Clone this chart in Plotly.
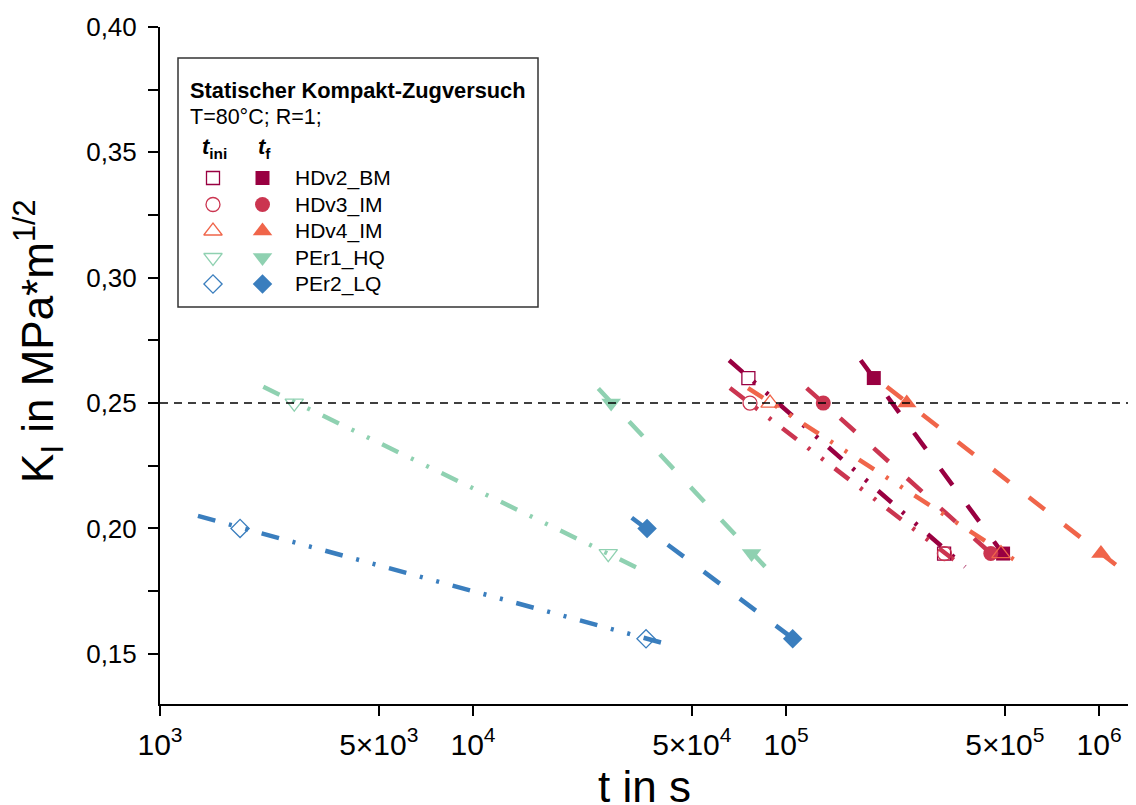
import plotly.graph_objects as go

# ---------------- data ----------------
series_names = ["HDv2_BM", "HDv3_IM", "HDv4_IM", "PEr1_HQ", "PEr2_LQ"]
series_colors = ["#990041", "#cb3550", "#f0654a", "#8fd1b1", "#3a7ebe"]
series_symbols = ["square", "circle", "triangle-up", "triangle-down", "diamond"]

# initiation times t_ini (s) and stress intensity K_I
t_ini = {
    "HDv2_BM": [75800, 319800],
    "HDv3_IM": [76700, 320600],
    "HDv4_IM": [88900, 486000],
    "PEr1_HQ": [2685, 27040],
    "PEr2_LQ": [1802, 35700],
}
k_ini = {
    "HDv2_BM": [0.26, 0.19],
    "HDv3_IM": [0.25, 0.19],
    "HDv4_IM": [0.25, 0.19],
    "PEr1_HQ": [0.25, 0.19],
    "PEr2_LQ": [0.20, 0.156],
}
# failure times t_f (s)
t_f = {
    "HDv2_BM": [190700, 493600],
    "HDv3_IM": [131500, 451000],
    "HDv4_IM": [243000, 1014000],
    "PEr1_HQ": [27620, 77600],
    "PEr2_LQ": [35970, 105000],
}
k_f = {
    "HDv2_BM": [0.26, 0.19],
    "HDv3_IM": [0.25, 0.19],
    "HDv4_IM": [0.25, 0.19],
    "PEr1_HQ": [0.25, 0.19],
    "PEr2_LQ": [0.20, 0.156],
}
# fit line end points
fit_ini_t = {
    "HDv2_BM": [65800, 373000],
    "HDv3_IM": [66200, 367800],
    "HDv4_IM": [75600, 567600],
    "PEr1_HQ": [2138, 33740],
    "PEr2_LQ": [1322, 43560],
}
fit_ini_k = {
    "HDv2_BM": [0.2671, 0.1847],
    "HDv3_IM": [0.2560, 0.1847],
    "HDv4_IM": [0.2560, 0.1855],
    "PEr1_HQ": [0.2565, 0.1841],
    "PEr2_LQ": [0.2050, 0.1532],
}
fit_f_t = {
    "HDv2_BM": [173200, 535000],
    "HDv3_IM": [116400, 508000],
    "HDv4_IM": [209800, 1170000],
    "PEr1_HQ": [25140, 85700],
    "PEr2_LQ": [32140, 114200],
}
fit_f_k = {
    "HDv2_BM": [0.2671, 0.1839],
    "HDv3_IM": [0.2560, 0.1843],
    "HDv4_IM": [0.2565, 0.1841],
    "PEr1_HQ": [0.2558, 0.1848],
    "PEr2_LQ": [0.2043, 0.1528],
}
k_reference = 0.25

x_tickvals = [1e3, 5e3, 1e4, 5e4, 1e5, 5e5, 1e6]
x_ticktext = ["10<sup>3</sup>", "5×10<sup>3</sup>", "10<sup>4</sup>", "5×10<sup>4</sup>",
              "10<sup>5</sup>", "5×10<sup>5</sup>", "10<sup>6</sup>"]
y_tickvals = [0.15, 0.175, 0.20, 0.225, 0.25, 0.275, 0.30, 0.325, 0.35, 0.375, 0.40]
y_ticktext = ["0,15", "", "0,20", "", "0,25", "", "0,30", "", "0,35", "", "0,40"]

legend_title = "Statischer Kompakt-Zugversuch"
legend_subtitle = "T=80°C; R=1;"
x_title = "t in s"
y_title = "K<sub>I</sub> in MPa*m<sup>1/2</sup>"

# ---------------- styling ----------------
FONT = "Liberation Sans, Arial, sans-serif"
size_map = {"square": 14, "circle": 15, "triangle-up": 17, "triangle-down": 17, "diamond": 15}
dash_ini = "18px,14px,3px,14px,3px,14px"
dash_f = "20px,25px"

fig = go.Figure()

# fit lines
for name, col in zip(series_names, series_colors):
    fig.add_trace(go.Scatter(x=fit_ini_t[name], y=fit_ini_k[name], mode="lines",
                             line=dict(color=col, width=4.5, dash=dash_ini),
                             showlegend=False, hoverinfo="skip"))
    fig.add_trace(go.Scatter(x=fit_f_t[name], y=fit_f_k[name], mode="lines",
                             line=dict(color=col, width=4.5, dash=dash_f),
                             showlegend=False, hoverinfo="skip"))

# markers
for name, col, sym in zip(series_names, series_colors, series_symbols):
    s = size_map[sym]
    fig.add_trace(go.Scatter(x=t_ini[name], y=k_ini[name], mode="markers", name=name + " t_ini",
                             marker=dict(symbol=sym + "-open", size=s - 1, color=col,
                                         line=dict(color=col, width=1.3)),
                             showlegend=False))
    fig.add_trace(go.Scatter(x=t_f[name], y=k_f[name], mode="markers", name=name + " t_f",
                             marker=dict(symbol=sym, size=s, color=col, line=dict(width=0)),
                             showlegend=False))

# reference line
fig.add_shape(type="line", xref="x domain", yref="y", x0=0, x1=1, y0=k_reference, y1=k_reference,
              line=dict(color="black", width=1.5, dash="8px,6px"))

# ---------------- legend (overlay pixel axes) ----------------
row_y = [178, 204.5, 231, 257.5, 284]
open_x, fill_x, label_x = 213, 262.5, 293
for i, (name, col, sym) in enumerate(zip(series_names, series_colors, series_symbols)):
    s = size_map[sym]
    fig.add_trace(go.Scatter(x=[open_x], y=[row_y[i]], xaxis="x2", yaxis="y2", mode="markers",
                             marker=dict(symbol=sym + "-open", size=s - 1, color=col,
                                         line=dict(color=col, width=1.3)),
                             showlegend=False, hoverinfo="skip"))
    fig.add_trace(go.Scatter(x=[fill_x], y=[row_y[i]], xaxis="x2", yaxis="y2", mode="markers",
                             marker=dict(symbol=sym, size=s, color=col, line=dict(width=0)),
                             showlegend=False, hoverinfo="skip"))
    fig.add_annotation(x=label_x, y=row_y[i], xref="x2", yref="y2", text=name, showarrow=False,
                       xanchor="left", yanchor="middle", font=dict(family=FONT, size=21, color="black"))

fig.add_shape(type="rect", xref="x2", yref="y2", x0=178, x1=538, y0=58, y1=307,
              line=dict(color="#333333", width=1.5), fillcolor="rgba(0,0,0,0)")
fig.add_annotation(x=188, y=90, xref="x2", yref="y2", text="<b>" + legend_title + "</b>",
                   showarrow=False, xanchor="left", yanchor="middle",
                   font=dict(family=FONT, size=21.8, color="black"))
fig.add_annotation(x=188, y=117, xref="x2", yref="y2", text=legend_subtitle,
                   showarrow=False, xanchor="left", yanchor="middle",
                   font=dict(family=FONT, size=21.5, color="black"))
fig.add_annotation(x=200, y=148, xref="x2", yref="y2", text="<b><i>t</i><sub>ini</sub></b>",
                   showarrow=False, xanchor="left", yanchor="middle",
                   font=dict(family=FONT, size=22, color="black"))
fig.add_annotation(x=256, y=148, xref="x2", yref="y2", text="<b><i>t</i><sub>f</sub></b>",
                   showarrow=False, xanchor="left", yanchor="middle",
                   font=dict(family=FONT, size=22, color="black"))

# axis titles (paper coordinates: plot area spans x 160..1136 px, y 27..704 px)
fig.add_annotation(x=0.4969, y=-0.122, xref="paper", yref="paper", text=x_title, showarrow=False,
                   xanchor="center", yanchor="middle", font=dict(family=FONT, size=44, color="black"))
fig.add_annotation(x=-0.124, y=0.5362, xref="paper", yref="paper", text=y_title, showarrow=False,
                   textangle=-90, xanchor="center", yanchor="middle",
                   font=dict(family=FONT, size=44, color="black"))

fig.update_layout(
    width=1128, height=797,
    margin=dict(l=152, r=0, t=19, b=101),
    paper_bgcolor="white", plot_bgcolor="white",
    font=dict(family=FONT, color="black"),
    xaxis=dict(type="log", range=[3, 6.118], tickvals=x_tickvals, ticktext=x_ticktext,
               ticks="outside", ticklen=10, tickwidth=2, tickcolor="black",
               showline=True, linewidth=2, linecolor="black", showgrid=False, zeroline=False,
               tickfont=dict(family=FONT, size=30), ticklabelstandoff=3),
    yaxis=dict(range=[0.13, 0.40], tickvals=y_tickvals, ticktext=y_ticktext,
               ticks="outside", ticklen=10, tickwidth=2, tickcolor="black",
               showline=True, linewidth=2, linecolor="black", showgrid=False, zeroline=False,
               tickfont=dict(family=FONT, size=26), ticklabelstandoff=6),
    xaxis2=dict(overlaying="x", anchor="y2", range=[160, 1136], visible=False, fixedrange=True),
    yaxis2=dict(overlaying="y", anchor="x2", range=[704, 27], visible=False, fixedrange=True),
)

fig.write_html("out.html")
